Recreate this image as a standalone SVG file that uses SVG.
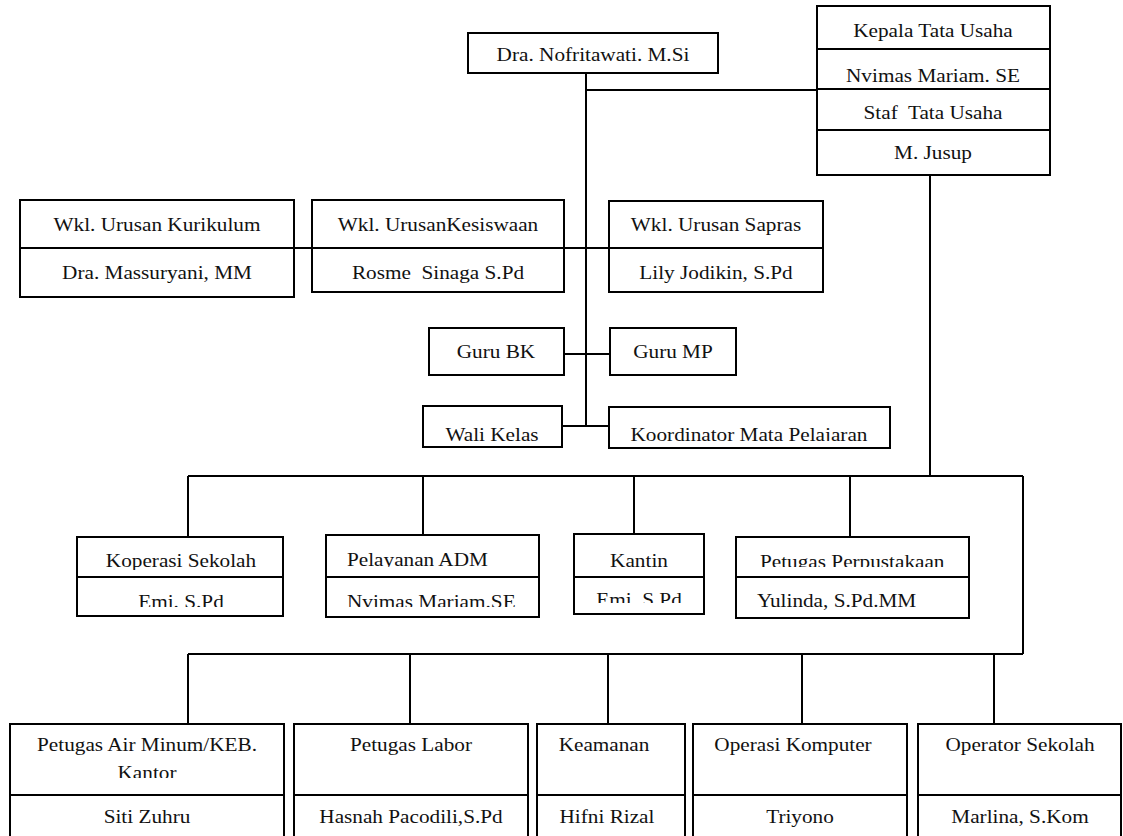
<svg xmlns="http://www.w3.org/2000/svg" width="1123" height="836" viewBox="0 0 1123 836">
<style>
.b{fill:#fff;stroke:#000;stroke-width:2}
.d{stroke:#000;stroke-width:2}
.c{stroke:#000;stroke-width:2;fill:none}
text{font-family:"Liberation Serif","Times New Roman",serif;font-size:18px;fill:#111;text-anchor:middle;white-space:pre}
.l{text-anchor:start}
</style>
<defs>
<clipPath id="k1"><rect x="468" y="34" width="250" height="27"/></clipPath>
<clipPath id="k2"><rect x="423" y="407" width="139" height="34"/></clipPath>
<clipPath id="k3"><rect x="609" y="408" width="281" height="33"/></clipPath>
<clipPath id="k4"><rect x="77" y="538" width="206" height="32"/></clipPath>
<clipPath id="k5"><rect x="77" y="578" width="206" height="29"/></clipPath>
<clipPath id="k6"><rect x="326" y="536" width="213" height="31"/></clipPath>
<clipPath id="k7"><rect x="326" y="578" width="213" height="29"/></clipPath>
<clipPath id="k8"><rect x="574" y="578" width="130" height="25"/></clipPath>
<clipPath id="k9"><rect x="736" y="538" width="233" height="29"/></clipPath>
<clipPath id="k10"><rect x="10" y="725" width="274" height="53"/></clipPath>
</defs>
<rect width="1123" height="836" fill="#fff"/>
<g id="connectors">
<path class="c" d="M586 73V426M586 90H817M294 248H609M564 354H610M562 426H609"/>
<path class="c" d="M930 175V476M188 476H1023M188 476V537M423 476V535M634 476V534M850 476V537"/>
<path class="c" d="M1023 476V654M188 654H1023M188 654V724M410 654V724M608 654V724M802 654V724M994 654V724"/>
</g>
<g id="kepala-sekolah">
<rect class="b" x="468" y="33" width="250" height="40"/>
<g clip-path="url(#k1)"><text transform="translate(593 61) scale(1.18 1)">Dra. Nofritawati. M.Si</text></g>
</g>
<g id="tata-usaha">
<rect class="b" x="817" y="6" width="233" height="169"/>
<path class="d" d="M817 49H1050M817 89H1050M817 130H1050"/>
<text transform="translate(933 37) scale(1.18 1)">Kepala Tata Usaha</text>
<text transform="translate(933 82) scale(1.18 1)">Nvimas Mariam. SE</text>
<text transform="translate(933 119) scale(1.18 1)">Staf  Tata Usaha</text>
<text transform="translate(933 159) scale(1.18 1)">M. Jusup</text>
</g>
<g id="kurikulum">
<rect class="b" x="20" y="200" width="274" height="97"/>
<path class="d" d="M20 248H294"/>
<text transform="translate(157 231) scale(1.18 1)">Wkl. Urusan Kurikulum</text>
<text transform="translate(157 279) scale(1.18 1)">Dra. Massuryani, MM</text>
</g>
<g id="kesiswaan">
<rect class="b" x="312" y="200" width="252" height="92"/>
<path class="d" d="M312 248H564"/>
<text transform="translate(438 231) scale(1.18 1)">Wkl. UrusanKesiswaan</text>
<text transform="translate(438 279) scale(1.18 1)">Rosme  Sinaga S.Pd</text>
</g>
<g id="sapras">
<rect class="b" x="609" y="201" width="214" height="91"/>
<path class="d" d="M609 248H823"/>
<text transform="translate(716 231) scale(1.18 1)">Wkl. Urusan Sapras</text>
<text transform="translate(716 279) scale(1.18 1)">Lily Jodikin, S.Pd</text>
</g>
<g id="guru-bk">
<rect class="b" x="429" y="328" width="135" height="47"/>
<text transform="translate(496 358) scale(1.18 1)">Guru BK</text>
</g>
<g id="guru-mp">
<rect class="b" x="610" y="328" width="126" height="47"/>
<text transform="translate(673 358) scale(1.18 1)">Guru MP</text>
</g>
<g id="wali-kelas">
<rect class="b" x="423" y="406" width="139" height="41"/>
<g clip-path="url(#k2)"><text transform="translate(492 441) scale(1.18 1)">Wali Kelas</text></g>
</g>
<g id="koordinator">
<rect class="b" x="609" y="407" width="281" height="41"/>
<g clip-path="url(#k3)"><text transform="translate(749 441) scale(1.18 1)">Koordinator Mata Pelajaran</text></g>
</g>
<g id="koperasi">
<rect class="b" x="77" y="537" width="206" height="79"/>
<path class="d" d="M77 577H283"/>
<g clip-path="url(#k4)"><text transform="translate(181 567) scale(1.18 1)">Koperasi Sekolah</text></g>
<g clip-path="url(#k5)"><text transform="translate(181 608) scale(1.18 1)">Emi. S.Pd</text></g>
</g>
<g id="pelayanan">
<rect class="b" x="326" y="535" width="213" height="82"/>
<path class="d" d="M326 577H539"/>
<g clip-path="url(#k6)"><text class="l" transform="translate(347 566) scale(1.18 1)">Pelayanan ADM</text></g>
<g clip-path="url(#k7)"><text class="l" transform="translate(347 608) scale(1.18 1)">Nvimas Mariam.SE</text></g>
</g>
<g id="kantin">
<rect class="b" x="574" y="534" width="130" height="80"/>
<path class="d" d="M574 577H704"/>
<text transform="translate(639 567) scale(1.18 1)">Kantin</text>
<g clip-path="url(#k8)"><text transform="translate(639 606) scale(1.18 1)">Emi. S.Pd</text></g>
</g>
<g id="perpustakaan">
<rect class="b" x="736" y="537" width="233" height="81"/>
<path class="d" d="M736 577H969"/>
<g clip-path="url(#k9)"><text class="l" transform="translate(760 568) scale(1.18 1)">Petugas Perpustakaan</text></g>
<text class="l" transform="translate(757 607) scale(1.18 1)">Yulinda, S.Pd.MM</text>
</g>
<g id="air-minum">
<rect class="b" x="10" y="724" width="274" height="120"/>
<path class="d" d="M10 795H284"/>
<text transform="translate(147 751) scale(1.18 1)">Petugas Air Minum/KEB.</text>
<g clip-path="url(#k10)"><text transform="translate(147 779) scale(1.18 1)">Kantor</text></g>
<text transform="translate(147 823) scale(1.18 1)">Siti Zuhru</text>
</g>
<g id="labor">
<rect class="b" x="294" y="724" width="234" height="120"/>
<path class="d" d="M294 795H528"/>
<text transform="translate(411 751) scale(1.18 1)">Petugas Labor</text>
<text transform="translate(411 823) scale(1.18 1)">Hasnah Pacodili,S.Pd</text>
</g>
<g id="keamanan">
<rect class="b" x="537" y="724" width="148" height="120"/>
<path class="d" d="M537 795H685"/>
<text transform="translate(604 751) scale(1.18 1)">Keamanan</text>
<text transform="translate(607 823) scale(1.18 1)">Hifni Rizal</text>
</g>
<g id="operasi-komputer">
<rect class="b" x="693" y="724" width="214" height="120"/>
<path class="d" d="M693 795H907"/>
<text transform="translate(793 751) scale(1.18 1)">Operasi Komputer</text>
<text transform="translate(800 823) scale(1.18 1)">Triyono</text>
</g>
<g id="operator-sekolah">
<rect class="b" x="918" y="724" width="203" height="120"/>
<path class="d" d="M918 795H1121"/>
<text transform="translate(1020 751) scale(1.18 1)">Operator Sekolah</text>
<text transform="translate(1020 823) scale(1.18 1)">Marlina, S.Kom</text>
</g>
</svg>
